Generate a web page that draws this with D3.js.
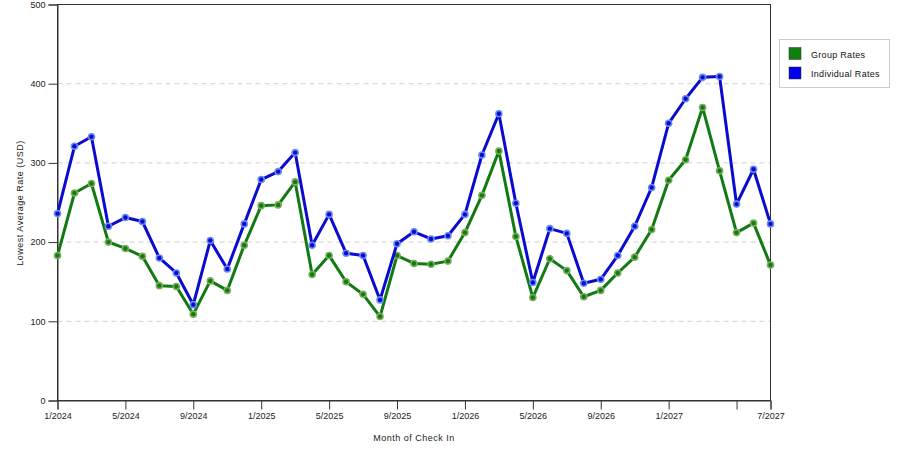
<!DOCTYPE html>
<html>
<head>
<meta charset="utf-8">
<script src="https://cdn.jsdelivr.net/npm/d3@7"></script>
<style>
body { margin: 0; background: #fff; }
svg { font-family: "Liberation Sans", Arial, sans-serif; }
</style>
</head>
<body>
<svg id="chart" width="900" height="450"></svg>
<script>
// months shown on the x axis, 1/2024 .. 7/2027
var months = [];
for (var y = 2024; y <= 2027; y++) {
    for (var m = 1; m <= 12; m++) {
	if (y == 2027 && m > 7) break;
	months.push(m + "/" + y);
    }
}

var groupRates = [183, 262, 274, 200, 192, 182, 145, 144, 109, 151, 139, 196, 246, 247, 276,
		  159, 183, 150, 134, 106, 183, 173, 172, 176, 212, 259, 315, 207, 130, 179,
		  164, 131, 139, 161, 181, 216, 278, 304, 370, 290, 212, 224, 171];
var individualRates = [236, 321, 333, 220, 231, 226, 180, 161, 121, 202, 166, 223, 279, 289, 313,
		       196, 235, 186, 183, 127, 198, 213, 204, 208, 235, 310, 362, 249, 149, 217,
		       211, 148, 153, 183, 220, 269, 350, 381, 408, 409, 248, 292, 223];

var tickMonths = ["1/2024", "5/2024", "9/2024", "1/2025", "5/2025", "9/2025", "1/2026",
		  "5/2026", "9/2026", "1/2027", "5/2027", "7/2027"];
var tickLabels = ["1/2024", "5/2024", "9/2024", "1/2025", "5/2025", "9/2025", "1/2026",
		  "5/2026", "9/2026", "1/2027", "", "7/2027"];
var yTicks = [0, 100, 200, 300, 400, 500];

var series = [
    { name: "Group Rates", values: groupRates, line: "#127a12", halo: "#78ad5a", swatch: "#0f7f0f" },
    { name: "Individual Rates", values: individualRates, line: "#0a0ad0", halo: "#6a8cf0", swatch: "#0000ee" }
];

var plotLeft = 57.5, plotRight = 770.5, plotTop = 4.5, plotBottom = 400.5;

var svg = d3.select("#chart");

var x = d3.scalePoint().domain(months).range([plotLeft, plotRight]);
var yScale = d3.scaleLinear().domain([0, 500]).range([plotBottom, plotTop]);

// grid lines
svg.append("g").selectAll("line")
    .data(yTicks.filter(function(d) { return d > 0 && d < 500; }))
    .enter().append("line")
    .attr("x1", plotLeft).attr("x2", plotRight)
    .attr("y1", function(d) { return yScale(d); })
    .attr("y2", function(d) { return yScale(d); })
    .attr("stroke", "#d0d0d0")
    .attr("stroke-dasharray", "5,4");

// frame
svg.append("rect")
    .attr("x", plotLeft).attr("y", plotTop)
    .attr("width", plotRight - plotLeft).attr("height", plotBottom - plotTop)
    .attr("fill", "none").attr("stroke", "#333");

// y axis
var yAxis = d3.axisLeft(yScale).tickValues(yTicks).tickSize(9).tickPadding(3);
var gy = svg.append("g").attr("transform", "translate(" + plotLeft + ",0)").call(yAxis);
gy.select(".domain").attr("stroke", "#333");
gy.selectAll(".tick line").attr("stroke", "#333");
gy.selectAll(".tick text").attr("fill", "#222").style("font-size", "9px");

// x axis
var xAxis = d3.axisBottom(x).tickValues(tickMonths).tickSize(9).tickPadding(3)
    .tickFormat(function(d, i) { return tickLabels[i]; });
var gx = svg.append("g").attr("transform", "translate(0," + plotBottom + ")").call(xAxis);
gx.select(".domain").attr("stroke", "#333");
gx.selectAll(".tick line").attr("stroke", "#333");
gx.selectAll(".tick text").attr("fill", "#222").style("font-size", "9px");

// axis titles
svg.append("text")
    .attr("x", 414).attr("y", 441)
    .attr("text-anchor", "middle")
    .style("font-size", "9px").attr("fill", "#222")
    .style("letter-spacing", "0.5px")
    .text("Month of Check In");
svg.append("text")
    .attr("transform", "translate(23,203) rotate(-90)")
    .attr("text-anchor", "middle")
    .style("font-size", "9px").attr("fill", "#222")
    .style("letter-spacing", "0.5px")
    .text("Lowest Average Rate (USD)");

var line = d3.line()
    .x(function(d, i) { return x(months[i]); })
    .y(function(d) { return yScale(d); });

series.forEach(function(s) {
    var g = svg.append("g");
    g.append("path")
	.datum(s.values)
	.attr("d", line)
	.attr("fill", "none")
	.attr("stroke", s.line)
	.attr("stroke-width", 3)
	.attr("stroke-linejoin", "round");
    // halo + dark centre, like the original markers
    g.selectAll("circle.halo")
	.data(s.values)
	.enter().append("circle")
	.attr("class", "halo")
	.attr("cx", function(d, i) { return x(months[i]); })
	.attr("cy", function(d) { return yScale(d); })
	.attr("r", 3.8)
	.attr("fill", s.halo);
    g.selectAll("circle.core")
	.data(s.values)
	.enter().append("circle")
	.attr("class", "core")
	.attr("cx", function(d, i) { return x(months[i]); })
	.attr("cy", function(d) { return yScale(d); })
	.attr("r", 2.2)
	.attr("fill", s.line);
});

// legend
var legend = svg.append("g");
legend.append("rect")
    .attr("x", 779.5).attr("y", 39.5)
    .attr("width", 110).attr("height", 48)
    .attr("fill", "#fff").attr("stroke", "#ccc");
series.forEach(function(s, i) {
    legend.append("rect")
	.attr("x", 789).attr("y", 47.5 + i * 19.5)
	.attr("width", 12).attr("height", 12)
	.attr("fill", s.swatch)
	.attr("stroke", "#333").attr("stroke-width", 0.5);
    legend.append("text")
	.attr("x", 811).attr("y", 57.5 + i * 19.5)
	.style("font-size", "9px").attr("fill", "#111")
	.style("letter-spacing", "0.3px")
	.text(s.name);
});
</script>
</body>
</html>
